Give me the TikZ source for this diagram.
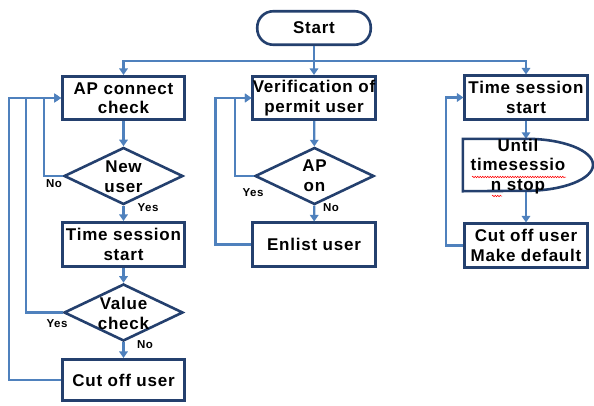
\documentclass[tikz,border=0pt]{standalone}
\usepackage{fontspec}
\setmainfont{Liberation Sans}
\newfontfamily\spacedsans{Liberation Sans}[LetterSpace=4.5]
\usetikzlibrary{arrows.meta,shapes.geometric,decorations.pathmorphing}
\definecolor{boxblue}{RGB}{36,64,110}
\definecolor{linkblue}{RGB}{79,129,189}
\newcommand{\bigtxt}{\spacedsans\bfseries\fontsize{17}{19.5}\selectfont}
\newcommand{\smalltxt}{\spacedsans\bfseries\fontsize{11.5}{13}\selectfont}
\begin{document}
\begin{tikzpicture}[x=1pt,y=-1pt,
  box/.style={draw=boxblue, line width=2.6pt, fill=white, inner sep=0pt,
    minimum width=122.5pt, minimum height=43.5pt, align=center, font=\bigtxt},
  startbox/.style={box, rounded corners=16pt, minimum width=113.5pt, minimum height=33.5pt},
  decision/.style={diamond, draw=boxblue, line width=2.6pt, fill=white, inner sep=0pt,
    minimum width=119pt, minimum height=57pt},
  dtext/.style={align=center, font=\bigtxt, inner sep=0pt},
  tag/.style={font=\smalltxt, inner sep=0pt},
  conn/.style={draw=linkblue, line width=2.3pt, -{Triangle[length=6.5pt,width=8.5pt]}},
  wline/.style={draw=linkblue, line width=2.3pt}
]
\useasboundingbox (0,0) rectangle (594,405);

% start and the three columns
\node[startbox] (start) at (314,28) {Start};
\coordinate (split) at (314,61);

% left column
\node[box] (ap) at (123.5,98) {AP connect\\check};
\node[decision] (nu) at (123.5,176) {};
\node[dtext] (nu-t) at (123.5,176.5) {New\\user};
\node[box, minimum height=44.5pt] (tsl) at (123.5,244.5) {Time session\\start};
\node[decision] (vc) at (123.5,312.5) {};
\node[dtext] (vc-t) at (123.5,313.5) {Value\\check};
\node[box, minimum height=41.5pt] (cut) at (123.5,380) {Cut off user};

% middle column
\node[box] (verif) at (314,98) {Verification of\\permit user};
\node[decision] (apon) at (314.5,176) {};
\node[dtext] (apon-t) at (314.5,175.5) {AP\\on};
\node[box] (enl) at (314,244.5) {Enlist user};

% right column
\node[box] (tss) at (526,97.5) {Time session\\start};
\node[minimum width=126pt, minimum height=52pt, inner sep=0pt] (until) at (526,165) {};
\node[box, minimum width=123.5pt] (cutr) at (526,245.5) {Cut off user\\Make default};

% connectors from start
\draw[wline] (start) -- (split);
\draw[conn] (split) -- (verif);
\draw[conn] (split) -| (ap);
\draw[conn] (split) -| (tss);

% left column flow
\draw[conn] (ap) -- (nu);
\draw[conn] (nu) -- (tsl);
\draw[conn] (tsl) -- (vc);
\draw[conn] (vc) -- (cut);
\draw[conn] (nu.west) -- ++(-19,0) |- (ap.west);
\draw[conn] (vc.west) -- ++(-37,0) |- (ap.west);
\draw[conn] (cut.west) -- ++(-52,0) |- (ap.west);

% middle column flow
\draw[conn] (verif) -- (apon);
\draw[conn] (apon) -- (enl);
\draw[conn] (apon.west) -- ++(-19,0) |- (verif.west);
\draw[conn] (enl.west) -- ++(-36,0) |- (verif.west);

% right column flow
\draw[conn] (tss) -- (until.north);
\draw[conn] (until.south) -- (cutr);
\draw[conn] (cutr.west) -- ++(-17,0) |- (tss.west);

% delay shape for the waiting step
\draw[boxblue, line width=2.6pt, fill=white]
  (until.north west) -- (until.north)
  arc[start angle=90, end angle=-90, x radius=67pt, y radius=26pt]
  -- (until.south west) -- cycle;
\node[dtext] (until-t) at (518,166.5) {Until\\timesessio\\n stop};
\draw[red, line width=0.5pt, decorate,
  decoration={snake, amplitude=0.8pt, segment length=2.5pt}] (472,177) -- (566,177);
\draw[red, line width=0.5pt, decorate,
  decoration={snake, amplitude=0.8pt, segment length=2.5pt}] (492,196) -- (502,196);

% branch labels
\node[tag] (nu-no) at (54,184) {No};
\node[tag] (nu-yes) at (148,208) {Yes};
\node[tag] (vc-yes) at (57,324) {Yes};
\node[tag] (vc-no) at (145,345) {No};
\node[tag] (apon-yes) at (253,193) {Yes};
\node[tag] (apon-no) at (331,208) {No};
\end{tikzpicture}
\end{document}
